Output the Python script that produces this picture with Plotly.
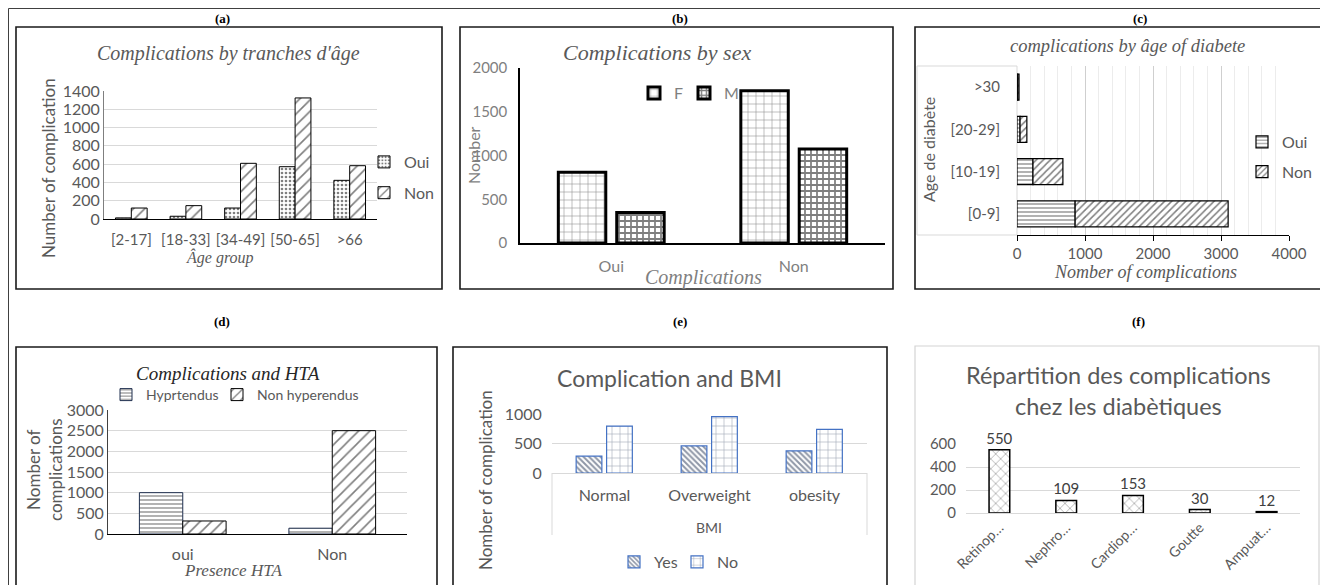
import plotly.graph_objects as go

# ---------------- data ----------------
age_groups = ["[2-17]", "[18-33]", "[34-49]", "[50-65]", ">66"]
age_oui = [12, 30, 120, 572, 423]
age_non = [120, 146, 609, 1324, 583]

sex_cats = ["Oui", "Non"]
sex_f = [810, 1740]
sex_m = [350, 1075]

diab_cats = ["[0-9]", "[10-19]", "[20-29]", ">30"]
diab_oui = [855, 235, 45, 10]
diab_non = [2250, 440, 100, 20]

hta_cats = ["oui", "Non"]
hta_hyp = [1000, 140]
hta_nonhyp = [315, 2500]

bmi_cats = ["Normal", "Overweight", "obesity"]
bmi_yes = [285, 460, 375]
bmi_no = [795, 955, 740]

comp_cats = ["Retinop…", "Nephro…", "Cardiop…", "Goutte", "Ampuat…"]
comp_vals = [550, 109, 153, 30, 12]

# ---------------- helpers ----------------
OFF = 8                     # page body margin
W, H = 1320, 577            # figure size (fits the window after the margin)
def fx(p): return (p - OFF) / W
def fy(p): return 1 - (p - OFF) / H

GRAY = "#595959"
LGRAY = "#7f7f7f"
GRID = "#d9d9d9"
SANS = "Lato"
SERIF = "Liberation Serif"

def pat(shape, size, sol, fg="black"):
    return dict(shape=shape, size=size, solidity=sol, fgcolor=fg, bgcolor="white", fillmode="overlay")

fig = go.Figure()

# (a)
fig.add_trace(go.Bar(x=age_groups, y=age_oui, name="Oui", xaxis="x", yaxis="y", width=0.29, offset=-0.29,
                     marker=dict(color="white", line=dict(color="black", width=1), pattern=pat(".", 4, 0.35)),
                     legend="legend", legendgroup="a1"))
fig.add_trace(go.Bar(x=age_groups, y=age_non, name="Non", xaxis="x", yaxis="y", width=0.29, offset=0,
                     marker=dict(color="white", line=dict(color="black", width=1), pattern=pat("/", 8, 0.2)),
                     legend="legend", legendgroup="a2"))
# (b)
fig.add_trace(go.Bar(x=sex_cats, y=sex_f, name="F", xaxis="x2", yaxis="y2", width=0.26, offset=-0.29,
                     marker=dict(color="white", line=dict(color="black", width=3), pattern=pat("+", 8, 0.12)),
                     legend="legend2"))
fig.add_trace(go.Bar(x=sex_cats, y=sex_m, name="M", xaxis="x2", yaxis="y2", width=0.26, offset=0.03,
                     marker=dict(color="white", line=dict(color="black", width=3), pattern=pat("+", 6, 0.5)),
                     legend="legend6"))
# (c)
fig.add_trace(go.Bar(y=diab_cats, x=diab_oui, name="Oui", orientation="h", xaxis="x3", yaxis="y3",
                     width=0.62, offset=-0.31,
                     marker=dict(color="white", line=dict(color="black", width=1.2), pattern=pat("-", 4, 0.3)),
                     legend="legend3", legendgroup="c1"))
fig.add_trace(go.Bar(y=diab_cats, x=diab_non, base=diab_oui, name="Non", orientation="h", xaxis="x3", yaxis="y3",
                     width=0.62, offset=-0.31,
                     marker=dict(color="white", line=dict(color="black", width=1.2), pattern=pat("/", 5, 0.3)),
                     legend="legend3", legendgroup="c2"))
# (d)
fig.add_trace(go.Bar(x=hta_cats, y=hta_hyp, name="Hyprtendus", xaxis="x4", yaxis="y4", width=0.29, offset=-0.29,
                     marker=dict(color="white", line=dict(color="#1f2f4f", width=1), pattern=pat("-", 4, 0.3)),
                     legend="legend4"))
fig.add_trace(go.Bar(x=hta_cats, y=hta_nonhyp, name="Non hyperendus", xaxis="x4", yaxis="y4", width=0.29, offset=0,
                     marker=dict(color="white", line=dict(color="black", width=1), pattern=pat("/", 8, 0.2)),
                     legend="legend7"))
# (e)
fig.add_trace(go.Bar(x=bmi_cats, y=bmi_yes, name="Yes", xaxis="x5", yaxis="y5", width=0.245, offset=-0.27,
                     marker=dict(color="white", line=dict(color="#4472c4", width=1.2), pattern=pat("\\", 4, 0.5, "#1f2f4f")),
                     legend="legend5"))
fig.add_trace(go.Bar(x=bmi_cats, y=bmi_no, name="No", xaxis="x5", yaxis="y5", width=0.245, offset=0.02,
                     marker=dict(color="white", line=dict(color="#4472c4", width=1.2), pattern=pat("+", 8, 0.12, "#1f2f4f")),
                     legend="legend8"))
# (f)
fig.add_trace(go.Bar(x=comp_cats, y=comp_vals, name="Complications", xaxis="x6", yaxis="y6", width=0.31, offset=-0.155,
                     marker=dict(color="white", line=dict(color="black", width=1.5), pattern=pat("x", 7, 0.15)),
                     text=[str(v) for v in comp_vals], textposition="outside", cliponaxis=False,
                     constraintext="none", textfont=dict(family=SANS, size=15, color="#404040"), showlegend=False))

def tf(size=15, color=GRAY, family=SANS):
    return dict(family=family, size=size, color=color)

def hleg(x, y, size=16, color=GRAY):
    return dict(orientation="h", x=fx(x), y=fy(y), xanchor="left", yanchor="middle",
                font=tf(size, color), bgcolor="rgba(0,0,0,0)")

fig.update_layout(
    width=W, height=H, margin=dict(l=0, r=0, t=0, b=0, pad=0, autoexpand=False),
    paper_bgcolor="white", plot_bgcolor="white", barmode="overlay",
    font=dict(family=SANS, color=GRAY),
    # (a)
    xaxis=dict(domain=[fx(104), fx(377)], anchor="y", type="category", range=[-0.5, 4.5],
               showline=True, linecolor="black", linewidth=1.2, ticks="outside", ticklen=7, tickangle=0,
               tickcolor="rgba(0,0,0,0)", tickfont=tf(15), showgrid=False, automargin=False),
    yaxis=dict(domain=[fy(219), fy(91)], anchor="x", range=[0, 1400], dtick=200, showline=True,
               linecolor="#7f7f7f", gridcolor=GRID, zeroline=False, tickfont=tf(16), automargin=False),
    # (b)
    xaxis2=dict(domain=[fx(520), fx(885)], anchor="y2", type="category", range=[-0.5, 1.5],
                showline=True, linecolor="black", linewidth=1.5, ticks="outside", ticklen=8, tickangle=0,
                tickcolor="rgba(0,0,0,0)", tickfont=tf(16, LGRAY), showgrid=False, automargin=False),
    yaxis2=dict(domain=[fy(243), fy(68)], anchor="x2", range=[0, 2000], dtick=500, showline=True,
                linecolor="black", linewidth=1.5, showgrid=False, zeroline=False, tickfont=tf(15, LGRAY),
                ticks="outside", ticklen=8, tickcolor="rgba(0,0,0,0)", automargin=False),
    # (c)
    xaxis3=dict(domain=[fx(1017), fx(1289)], anchor="y3", range=[0, 4000], dtick=1000, showline=True,
                linecolor="black", linewidth=1.2, ticks="outside", ticklen=5, tickcolor="black", tickangle=0,
                gridcolor="#cfcfcf", zeroline=False, tickfont=tf(15), automargin=False,
                minor=dict(dtick=200, showgrid=True, gridcolor="#ececec")),
    yaxis3=dict(domain=[fy(235), fy(66)], anchor="x3", type="category", range=[-0.5, 3.5],
                showline=False, showgrid=False, ticks="outside", ticklen=13, automargin=False,
                tickcolor="rgba(0,0,0,0)", tickfont=tf(15)),
    # (d)
    xaxis4=dict(domain=[fx(108), fx(407)], anchor="y4", type="category", range=[-0.5, 1.5],
                showline=True, linecolor="black", linewidth=1.2, ticks="outside", ticklen=6, tickangle=0,
                tickcolor="rgba(0,0,0,0)", tickfont=tf(16), showgrid=False, automargin=False),
    yaxis4=dict(domain=[fy(534), fy(410)], anchor="x4", range=[0, 3000], dtick=500, showline=True,
                linecolor="#404040", gridcolor=GRID, zeroline=False, tickfont=tf(16), automargin=False),
    # (e)
    xaxis5=dict(domain=[fx(552), fx(867)], anchor="y5", type="category", range=[-0.5, 2.5],
                showline=True, linecolor=GRID, linewidth=1, ticks="outside", ticklen=8, tickangle=0,
                tickcolor="rgba(0,0,0,0)", tickfont=tf(16), showgrid=False, automargin=False),
    yaxis5=dict(domain=[fy(473), fy(414)], anchor="x5", range=[0, 1000], dtick=500, showline=False,
                gridcolor=GRID, zeroline=False, tickfont=tf(16), ticks="outside", ticklen=6,
                tickcolor="rgba(0,0,0,0)", automargin=False),
    # (f)
    xaxis6=dict(domain=[fx(966), fx(1300)], anchor="y6", type="category", range=[-0.5, 4.5],
                showline=True, linecolor=GRID, linewidth=1, tickangle=-45, tickfont=tf(14),
                showgrid=False, automargin=False),
    yaxis6=dict(domain=[fy(513), fy(444)], anchor="x6", range=[0, 600], dtick=200, showline=False,
                gridcolor=GRID, zeroline=False, tickfont=tf(15), ticks="outside", ticklen=6,
                tickcolor="rgba(0,0,0,0)", automargin=False),
    legend=dict(x=fx(364), y=fy(145), xanchor="left", yanchor="top", font=tf(16),
                tracegroupgap=7, bgcolor="rgba(0,0,0,0)"),
    legend3=dict(x=fx(1242), y=fy(125), xanchor="left", yanchor="top", font=tf(16),
                 tracegroupgap=6, bgcolor="rgba(0,0,0,0)"),
    legend2=hleg(634, 93, 16, LGRAY),
    legend6=hleg(684, 93, 16, LGRAY),
    legend4=hleg(106, 395, 14),
    legend7=hleg(217, 395, 14),
    legend5=hleg(614, 562, 16),
    legend8=hleg(677, 562, 16),
)

# ---------------- shapes ----------------
shapes = []
def line(x0, y0, x1, y1, color="#404040", width=1):
    shapes.append(dict(type="line", xref="paper", yref="paper", x0=fx(x0), y0=fy(y0), x1=fx(x1), y1=fy(y1),
                       line=dict(color=color, width=width)))
def rect(x0, y0, x1, y1, color="#1a1a1a", width=1.6):
    shapes.append(dict(type="rect", xref="paper", yref="paper", x0=fx(x0), y0=fy(y0), x1=fx(x1), y1=fy(y1),
                       line=dict(color=color, width=width), fillcolor="rgba(0,0,0,0)", layer="below"))

line(8.5, 8.5, 1330, 8.5)
line(8.5, 8.5, 8.5, 590)
rect(16, 27, 442, 289)
rect(460, 27, 893, 289)
rect(915, 27, 1321, 289)
rect(16, 347, 437, 592)
rect(453, 347, 887, 592)
rect(915, 346, 1319, 592, color="#d4d4d4", width=1.2)
rect(917, 66, 1017, 235, color=GRID, width=1)
line(552, 473, 552, 535, color=GRID)
line(867, 473, 867, 535, color=GRID)
fig.update_layout(shapes=shapes)

# ---------------- annotations ----------------
ann = []
def text(x, y, s, size, color=GRAY, family=SANS, angle=0):
    ann.append(dict(x=fx(x), y=fy(y), xref="paper", yref="paper", text=s, showarrow=False,
                    xanchor="center", yanchor="middle", textangle=angle,
                    font=dict(family=family, size=size, color=color)))

for lab, x, y in [("(a)", 222, 19), ("(b)", 680, 19), ("(c)", 1140, 19),
                  ("(d)", 222, 321), ("(e)", 680, 321), ("(f)", 1138, 321)]:
    text(x, y, "<b>" + lab + "</b>", 13, "black", SERIF)

text(228, 54, "<i>Complications by tranches d'âge</i>", 20, GRAY, SERIF)
text(657, 52, "<i>Complications by sex</i>", 22, GRAY, SERIF)
text(1127, 46, "<i>complications by âge of diabete</i>", 18.5, GRAY, SERIF)
text(228, 373, "<i>Complications and HTA</i>", 19, "#262626", SERIF)
text(670, 378, "Complication and BMI", 23, GRAY, SANS)
text(1118, 391, "Répartition des complications<br>chez les diabètiques", 23.5, GRAY, SANS)

text(48, 168, "Number of complication", 17, GRAY, SANS, -90)
text(220, 257, "<i>Âge group</i>", 16, GRAY, SERIF)
text(473, 155, "Nomber", 16, LGRAY, SANS, -90)
text(703, 277, "<i>Complications</i>", 20, LGRAY, SERIF)
text(928, 150, "Age de diabète", 16, GRAY, SANS, -90)
text(1145, 272, "<i>Nomber of complications</i>", 18, GRAY, SERIF)
text(44, 470, "Nomber of<br>complications", 17, GRAY, SANS, -90)
text(233, 570, "<i>Presence HTA</i>", 17, GRAY, SERIF)
text(485, 480, "Nomber of complication", 17, GRAY, SANS, -90)
text(709, 527, "BMI", 14, GRAY, SANS)
fig.update_layout(annotations=ann)

fig.write_html("out.html")
